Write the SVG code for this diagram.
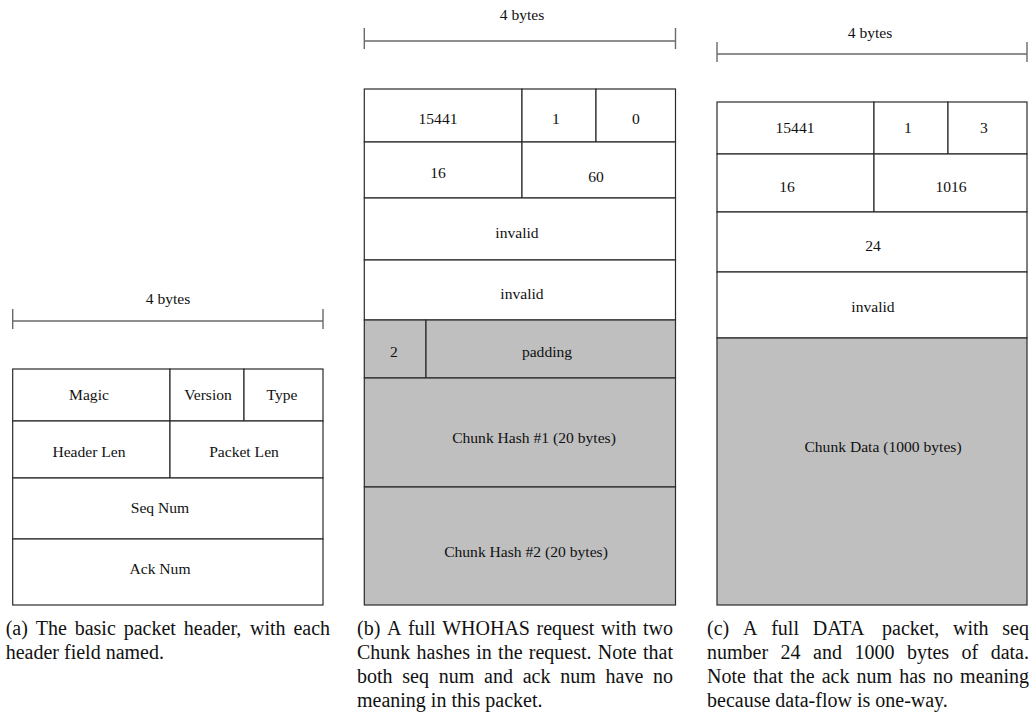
<svg xmlns="http://www.w3.org/2000/svg" width="1036" height="719" viewBox="0 0 1036 719">
<style>
  .cell { fill: #ffffff; stroke: #2a2a2a; stroke-width: 1.2; }
  .shade { fill: #bfbfbf; stroke: #2a2a2a; stroke-width: 1.2; }
  .lbl { font-family: "Liberation Serif", "Times New Roman", serif; font-size: 15.6px; fill: #111; text-anchor: middle; }
  .bar { stroke: #6a6a6a; stroke-width: 1.4; fill: none; }
  .cap { font-family: "Liberation Serif", "Times New Roman", serif; font-size: 20px; fill: #111; }
</style>
<rect width="1036" height="719" fill="#ffffff"/>

<g id="dimension-bars">
  <g id="bar-a">
    <path class="bar" d="M12.7 321 H323 M12.7 309 V329 M323 309 V329"/>
    <text class="lbl" x="168" y="304">4 bytes</text>
  </g>
  <g id="bar-b">
    <path class="bar" d="M364.3 41 H675.5 M364.3 28 V49 M675.5 28 V49"/>
    <text class="lbl" x="522" y="19.5">4 bytes</text>
  </g>
  <g id="bar-c">
    <path class="bar" d="M717 54 H1027 M717 42 V62 M1027 42 V62"/>
    <text class="lbl" x="870" y="37.5">4 bytes</text>
  </g>
</g>

<g id="packet-a">
  <g id="a-magic"><rect class="cell" x="12.7" y="369" width="157.3" height="52"/><text class="lbl" x="89" y="400">Magic</text></g>
  <g id="a-version"><rect class="cell" x="170" y="369" width="74" height="52"/><text class="lbl" x="208" y="400">Version</text></g>
  <g id="a-type"><rect class="cell" x="244" y="369" width="79" height="52"/><text class="lbl" x="282" y="400">Type</text></g>
  <g id="a-header-len"><rect class="cell" x="12.7" y="421" width="157.3" height="57"/><text class="lbl" x="89" y="457">Header Len</text></g>
  <g id="a-packet-len"><rect class="cell" x="170" y="421" width="153" height="57"/><text class="lbl" x="244" y="457">Packet Len</text></g>
  <g id="a-seq"><rect class="cell" x="12.7" y="478" width="310.3" height="61"/><text class="lbl" x="160" y="513">Seq Num</text></g>
  <g id="a-ack"><rect class="cell" x="12.7" y="539" width="310.3" height="66"/><text class="lbl" x="160" y="574">Ack Num</text></g>
</g>

<g id="packet-b">
  <g id="b-magic"><rect class="cell" x="364.3" y="89" width="157.7" height="53"/><text class="lbl" x="438" y="124">15441</text></g>
  <g id="b-version"><rect class="cell" x="522" y="89" width="74" height="53"/><text class="lbl" x="556" y="124">1</text></g>
  <g id="b-type"><rect class="cell" x="596" y="89" width="79.5" height="53"/><text class="lbl" x="636" y="124">0</text></g>
  <g id="b-header-len"><rect class="cell" x="364.3" y="142" width="157.7" height="56"/><text class="lbl" x="438" y="177.5">16</text></g>
  <g id="b-packet-len"><rect class="cell" x="522" y="142" width="153.5" height="56"/><text class="lbl" x="596" y="181.5">60</text></g>
  <g id="b-seq"><rect class="cell" x="364.3" y="198" width="311.2" height="62"/><text class="lbl" x="517" y="238">invalid</text></g>
  <g id="b-ack"><rect class="cell" x="364.3" y="260" width="311.2" height="60"/><text class="lbl" x="522" y="299">invalid</text></g>
  <g id="b-count"><rect class="shade" x="364.3" y="320" width="61.7" height="58"/><text class="lbl" x="394" y="357">2</text></g>
  <g id="b-padding"><rect class="shade" x="426" y="320" width="249.5" height="58"/><text class="lbl" x="547" y="357">padding</text></g>
  <g id="b-hash1"><rect class="shade" x="364.3" y="378" width="311.2" height="109"/><text class="lbl" x="534" y="443">Chunk Hash #1 (20 bytes)</text></g>
  <g id="b-hash2"><rect class="shade" x="364.3" y="487" width="311.2" height="118"/><text class="lbl" x="526" y="557">Chunk Hash #2 (20 bytes)</text></g>
</g>

<g id="packet-c">
  <g id="c-magic"><rect class="cell" x="717" y="102" width="157" height="52"/><text class="lbl" x="795" y="133">15441</text></g>
  <g id="c-version"><rect class="cell" x="874" y="102" width="74" height="52"/><text class="lbl" x="908" y="133">1</text></g>
  <g id="c-type"><rect class="cell" x="948" y="102" width="79" height="52"/><text class="lbl" x="984" y="133">3</text></g>
  <g id="c-header-len"><rect class="cell" x="717" y="154" width="157" height="58"/><text class="lbl" x="787" y="192">16</text></g>
  <g id="c-packet-len"><rect class="cell" x="874" y="154" width="153" height="58"/><text class="lbl" x="951" y="192">1016</text></g>
  <g id="c-seq"><rect class="cell" x="717" y="212" width="310" height="60"/><text class="lbl" x="873" y="251">24</text></g>
  <g id="c-ack"><rect class="cell" x="717" y="272" width="310" height="66"/><text class="lbl" x="873" y="312">invalid</text></g>
  <g id="c-data"><rect class="shade" x="717" y="338" width="310" height="267"/><text class="lbl" x="883" y="452">Chunk Data (1000 bytes)</text></g>
</g>

<g id="captions">
  <g id="caption-a">
    <text class="cap" y="635"><tspan x="5.7">(a)</tspan><tspan x="35.8">The</tspan><tspan x="74.7">basic</tspan><tspan x="123.7">packet</tspan><tspan x="183.8">header,</tspan><tspan x="250">with</tspan><tspan x="293.4">each</tspan></text>
    <text class="cap" x="5.7" y="659">header field named.</text>
  </g>
  <g id="caption-b">
    <text class="cap" y="635"><tspan x="357">(b)</tspan><tspan x="386.9">A</tspan><tspan x="407.9">full</tspan><tspan x="442.2">WHOHAS</tspan><tspan x="536.5">request</tspan><tspan x="600.9">with</tspan><tspan x="643">two</tspan></text>
    <text class="cap" y="659"><tspan x="357">Chunk</tspan><tspan x="416.6">hashes</tspan><tspan x="476.2">in</tspan><tspan x="498.1">the</tspan><tspan x="528.8">request.</tspan><tspan x="597.8">Note</tspan><tspan x="643">that</tspan></text>
    <text class="cap" y="683"><tspan x="357">both</tspan><tspan x="402.3">seq</tspan><tspan x="438.7">num</tspan><tspan x="484">and</tspan><tspan x="522.7">ack</tspan><tspan x="560.2">num</tspan><tspan x="605.5">have</tspan><tspan x="653">no</tspan></text>
    <text class="cap" x="357" y="706.5">meaning in this packet.</text>
  </g>
  <g id="caption-c">
    <text class="cap" y="635"><tspan x="707">(c)</tspan><tspan x="743">A</tspan><tspan x="771.2">full</tspan><tspan x="812.7">DATA</tspan><tspan x="882">packet,</tspan><tspan x="953">with</tspan><tspan x="1002.3">seq</tspan></text>
    <text class="cap" y="659"><tspan x="707">number</tspan><tspan x="780.6">24</tspan><tspan x="813">and</tspan><tspan x="854.4">1000</tspan><tspan x="906.9">bytes</tspan><tspan x="961.6">of</tspan><tspan x="990.7">data.</tspan></text>
    <text class="cap" y="683"><tspan x="707">Note</tspan><tspan x="753">that</tspan><tspan x="790.1">the</tspan><tspan x="821.7">ack</tspan><tspan x="856.6">num</tspan><tspan x="899.2">has</tspan><tspan x="933">no</tspan><tspan x="960.1">meaning</tspan></text>
    <text class="cap" x="707" y="706.5">because data-flow is one-way.</text>
  </g>
</g>
</svg>
